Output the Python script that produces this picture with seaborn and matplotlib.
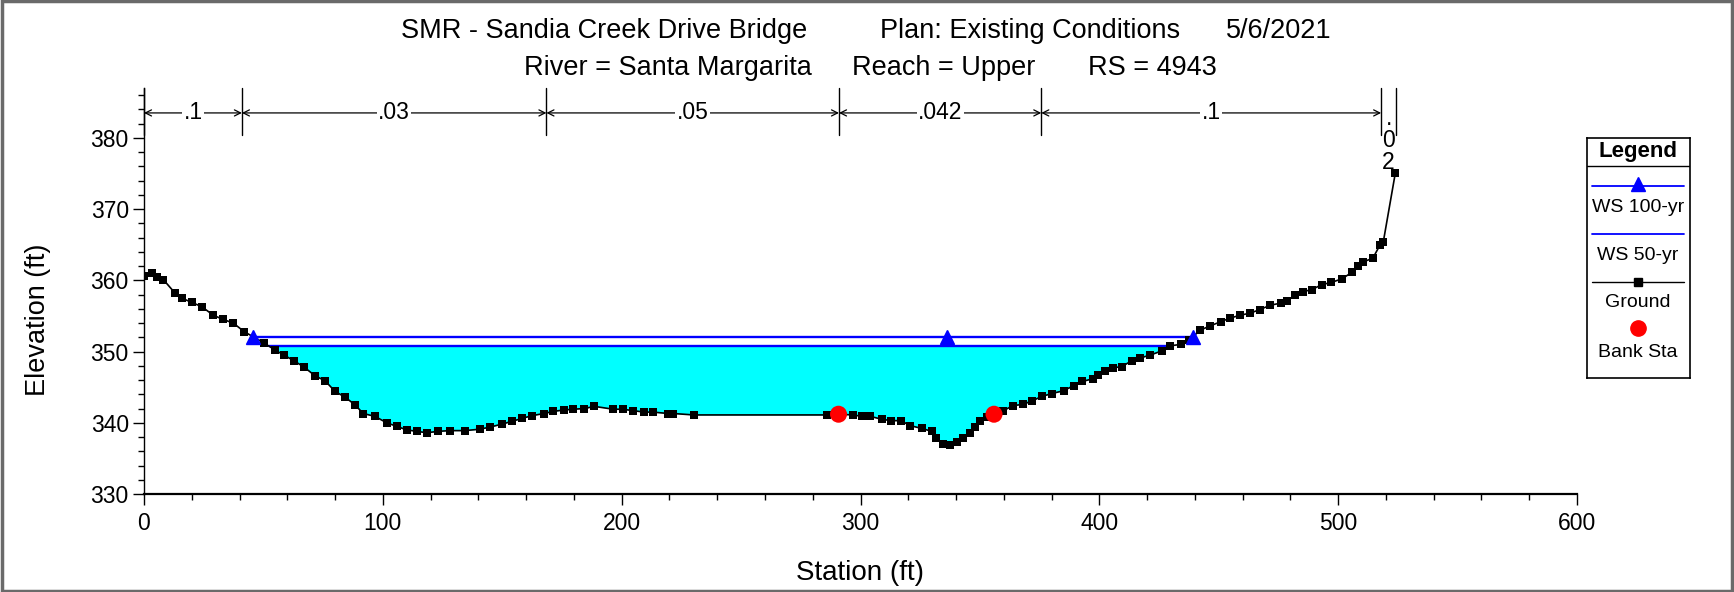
import numpy as np
import pandas as pd
import matplotlib
matplotlib.use("Agg")
import matplotlib.pyplot as plt
from matplotlib.ticker import MultipleLocator
from matplotlib.patches import Rectangle
from matplotlib.lines import Line2D
import seaborn as sns

# ---------------- data ----------------
title_parts_1 = ["SMR - Sandia Creek Drive Bridge", "Plan: Existing Conditions", "5/6/2021"]
title_parts_2 = ["River = Santa Margarita", "Reach = Upper", "RS = 4943"]

ground_station = [0, 3.2, 5.3, 8.1, 13, 15.8, 20, 24.2, 29, 33.2, 37.4, 41.9, 50.3, 54.9,
                  58.6, 62.8, 67.1, 71.6, 75.8, 80, 84.2, 88.4, 91.8, 96.7, 101.6, 105.8,
                  110, 114.2, 118.4, 123.3, 128.1, 134.4, 140.7, 144.9, 149.8, 154, 158.2,
                  162.4, 167.5, 171.4, 175.9, 179.8, 184.3, 188.6, 196.5, 200.4, 204.9,
                  209.4, 213, 219.6, 221.7, 230.1, 285.9, 290.8, 297, 300.5, 304, 308.9,
                  312.7, 316.9, 320.8, 325.7, 329.8, 331.7, 334.7, 337.5, 340.3, 343.1,
                  345.9, 348, 350.1, 353, 355.9, 359.8, 363.8, 368.2, 372, 375.9, 380.1,
                  385, 389.2, 392.9, 397.5, 399.6, 402.4, 405.9, 409.4, 413.6, 417.1,
                  421.3, 426.2, 429.6, 434, 437.6, 442.2, 446.4, 450.9, 454.8, 459, 463.2,
                  467.3, 471.5, 476, 478.5, 482, 485.2, 489, 493.2, 497.1, 501.5, 505.7,
                  508.5, 510.6, 514.5, 517.6, 518.9, 523.9]
ground_elev = [360.6, 361.0, 360.5, 360.1, 358.2, 357.5, 356.9, 356.3, 355.1, 354.5, 354.0,
               352.8, 351.2, 350.2, 349.5, 348.7, 347.8, 346.6, 345.9, 344.4, 343.6, 342.5,
               341.3, 340.9, 340.0, 339.5, 339.0, 338.8, 338.6, 338.8, 338.9, 338.9, 339.1,
               339.4, 339.8, 340.2, 340.6, 341.0, 341.3, 341.6, 341.8, 341.9, 342.0, 342.3,
               341.9, 341.9, 341.7, 341.5, 341.5, 341.3, 341.3, 341.1, 341.1, 341.2, 341.1,
               340.9, 340.9, 340.5, 340.3, 340.3, 339.6, 339.2, 338.8, 337.8, 337.0, 336.9,
               337.3, 337.8, 338.5, 339.4, 340.2, 340.8, 341.2, 341.7, 342.4, 342.6, 343.1,
               343.7, 344.1, 344.5, 345.2, 345.8, 346.2, 346.7, 347.3, 347.7, 347.9, 348.7,
               349.1, 349.5, 350.1, 350.8, 351.0, 351.6, 353.0, 353.6, 354.2, 354.7, 355.1,
               355.4, 355.9, 356.5, 356.8, 357.1, 357.9, 358.4, 358.7, 359.4, 359.7, 360.2,
               361.1, 362.0, 362.6, 363.1, 365.0, 365.4, 375.0]

bank_station = [290.8, 355.9]

ws100_elev = 352.1
ws50_elev = 350.8
ws100_mid_marker_station = 336.1

n_break_station = [0, 41, 168.5, 291, 375.7, 518, 524.3]
n_values = [".1", ".03", ".05", ".042", ".1", ".02"]

legend_labels = ["WS 100-yr", "WS 50-yr", "Ground", "Bank Sta"]

# ---------------- style ----------------
sns.set_theme(style="ticks")
plt.rcParams["font.family"] = ["Liberation Sans", "DejaVu Sans"]
plt.rcParams["axes.edgecolor"] = "black"
plt.rcParams["text.color"] = "black"
plt.rcParams["xtick.color"] = "black"
plt.rcParams["ytick.color"] = "black"

W, H = 1734, 592
fig = plt.figure(figsize=(W / 100, H / 100), dpi=100)
fig.patch.set_facecolor("white")
fig.patches.append(Rectangle((0.001, 0.002), 0.998, 0.996, transform=fig.transFigure,
                             fill=False, ec="#6a6a6a", lw=2.5))

ax = fig.add_axes([144 / W, 1 - 494 / H, (1577 - 144) / W, (494 - 88) / H])
ax.set_facecolor("white")

df = pd.DataFrame({"station": ground_station, "elev": ground_elev})
x = df["station"].to_numpy()
y = df["elev"].to_numpy()


def crossings(xs, ys, level):
    idx = np.where(ys < level)[0]
    i0, i1 = idx[0], idx[-1]
    xl = np.interp(level, [ys[i0], ys[i0 - 1]], [xs[i0], xs[i0 - 1]])
    xr = np.interp(level, [ys[i1], ys[i1 + 1]], [xs[i1], xs[i1 + 1]])
    return xl, xr


# water fill (WS 50-yr)
ax.fill_between(x, y, ws50_elev, where=y <= ws50_elev, interpolate=True,
                color="#00FFFF", lw=0, zorder=1)

l50, r50 = crossings(x, y, ws50_elev)
ax.plot([l50, r50], [ws50_elev, ws50_elev], color="#0000FF", lw=1.7, zorder=2)
l100, r100 = crossings(x, y, ws100_elev)
ax.plot([l100, r100], [ws100_elev, ws100_elev], color="#0000FF", lw=1.7, zorder=2)

# ground
sns.lineplot(data=df, x="station", y="elev", estimator=None, sort=False, ax=ax,
             color="black", lw=1.2, marker="s", markersize=6.3, markeredgewidth=0,
             markerfacecolor="black", zorder=4)

# bank stations
bank_df = pd.DataFrame({"station": bank_station,
                        "elev": np.interp(bank_station, x, y)})
sns.scatterplot(data=bank_df, x="station", y="elev", ax=ax, color="#FF0000",
                s=150, edgecolor="none", zorder=5, legend=False)

# ws 100 markers
tri_x = [l100, ws100_mid_marker_station, r100]
ax.plot(tri_x, [ws100_elev] * 3, ls="none", marker="^", markersize=10,
        color="#0000FF", zorder=6)

# axes setup
ax.set_xlim(0, 600)
ax.set_ylim(330, 387)
ax.set_xticks(range(0, 601, 100))
ax.set_yticks(range(330, 381, 10))
ax.xaxis.set_minor_locator(MultipleLocator(20))
ax.yaxis.set_minor_locator(MultipleLocator(2))
ax.tick_params(which="major", direction="out", length=8, width=1, labelsize=16.5)
ax.tick_params(axis="x", which="major", pad=5)
ax.tick_params(axis="y", which="major", pad=3)
ax.tick_params(which="minor", direction="out", length=4.5, width=1)
ax.spines["top"].set_visible(False)
ax.spines["right"].set_visible(False)
ax.spines["left"].set_linewidth(1.0)
ax.spines["bottom"].set_linewidth(1.6)
ax.set_xlabel("")
ax.set_ylabel("")

fig.text(38 / W, 1 - 320 / H, "Elevation (ft)", rotation=90, ha="center",
         va="center", fontsize=19.5)
fig.text(860 / W, 1 - 573 / H, "Station (ft)", ha="center", va="center", fontsize=20)

# titles
for txt, px in zip(title_parts_1, [401, 880, 1226]):
    fig.text(px / W, 1 - 31 / H, txt, ha="left", va="center", fontsize=19.5)
for txt, px in zip(title_parts_2, [524, 852, 1088]):
    fig.text(px / W, 1 - 68 / H, txt, ha="left", va="center", fontsize=19.5)

# manning's n bars
bar_lo, bar_hi, arrow_y = 380.4, 387.0, 383.5
for s in n_break_station:
    ax.plot([s, s], [bar_lo, bar_hi], color="black", lw=1.0, zorder=3, clip_on=False)
for a, b, lab in zip(n_break_station[:-1], n_break_station[1:], n_values):
    mid = (a + b) / 2
    if b - a > 20:
        ax.annotate("", xy=(a, arrow_y), xytext=(b, arrow_y),
                    arrowprops=dict(arrowstyle="<->", lw=0.9, color="black",
                                    shrinkA=0, shrinkB=0, mutation_scale=11),
                    zorder=3)
        ax.text(mid, arrow_y, lab, ha="center", va="center", fontsize=16.5,
                bbox=dict(fc="white", ec="none", pad=1.0), zorder=4)
    else:
        ax.text(mid, arrow_y + 0.9, "\n".join(list(lab)), ha="center", va="top",
                fontsize=16.5, linespacing=0.95, zorder=4, clip_on=False)

# legend (manual, HEC-RAS style)
lx0, lx1, ly0, ly1 = 1587, 1690, 138, 378
lax = fig.add_axes([lx0 / W, 1 - ly1 / H, (lx1 - lx0) / W, (ly1 - ly0) / H])
lax.set_xlim(lx0, lx1)
lax.set_ylim(ly1, ly0)
lax.set_xticks([])
lax.set_yticks([])
for sp in lax.spines.values():
    sp.set_color("black")
    sp.set_linewidth(1.2)
lax.set_facecolor("white")
lax.text((lx0 + lx1) / 2, 152, "Legend", ha="center", va="center", fontsize=16,
         fontweight="bold")
lax.add_line(Line2D([lx0, lx1], [166, 166], color="black", lw=1.0))
hx0, hx1, hmid = 1592, 1684, 1638
lax.add_line(Line2D([hx0, hx1], [186, 186], color="#0000FF", lw=1.3))
lax.plot([hmid], [184], marker="^", color="#0000FF", markersize=10, ls="none")
lax.text(hmid, 208, legend_labels[0], ha="center", va="center", fontsize=14)
lax.add_line(Line2D([hx0, hx1], [234, 234], color="#0000FF", lw=1.3))
lax.text(hmid, 255, legend_labels[1], ha="center", va="center", fontsize=14)
lax.add_line(Line2D([hx0, hx1], [282, 282], color="black", lw=1.0))
lax.plot([hmid], [282], marker="s", color="black", markersize=6, ls="none")
lax.text(hmid, 303, legend_labels[2], ha="center", va="center", fontsize=14)
lax.plot([hmid], [328], marker="o", color="#FF0000", markersize=11, ls="none")
lax.text(hmid, 353, legend_labels[3], ha="center", va="center", fontsize=14)

fig.savefig("out.png", dpi=100, facecolor="white")
